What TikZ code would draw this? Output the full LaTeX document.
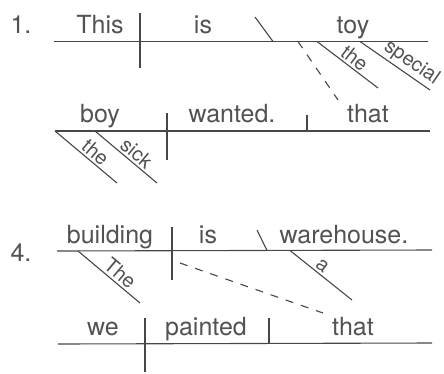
\documentclass[tikz,border=0pt]{standalone}
\usepackage{fontspec}
\setmainfont{TeX Gyre Heros}
\begin{document}
\begin{tikzpicture}[x=1pt, y=-1pt,
    rule/.style={line width=1.1pt, draw=black!72},
    word/.style={anchor=base, inner sep=0pt, text=black!68, font=\fontsize{25}{29}\selectfont},
    mod/.style={sloped, above, inner sep=2pt, text=black!68, font=\fontsize{20}{24}\selectfont},
    link/.style={rule, dash pattern=on 8pt off 8pt}]
    \useasboundingbox (0,0) rectangle (444,373);
    % sentence 1, main clause
    \node[word] (num1) at (21,33) {1.};
    \coordinate (mainA) at (54,41.5);
    \draw[rule] (mainA) -- (428,41.5);
    \draw[rule] (140,13) -- (140,68);
    \draw[rule] (255,17) -- (273,41.5);
    \node[word] (this) at (100,33) {This};
    \node[word] (isA) at (203,33) {is};
    \node[word] (toy) at (353,33) {toy};
    \draw[rule] (317,41.5) -- node[mod, pos=0.52] {the} (378,88);
    \draw[rule] (360,41.5) -- node[mod, pos=0.64] {special} (430,90);
    % sentence 1, relative clause
    \coordinate (relA) at (55,131);
    \draw[rule] (relA) -- (430,131);
    \draw[rule] (167,113) -- (167,160);
    \draw[rule] (307,115) -- (307,131);
    \node[word] (boy) at (100,122) {boy};
    \node[word] (wanted) at (232,122) {wanted.};
    \node[word] (thatA) at (368,122) {that};
    \draw[rule] (relA) -- node[mod, pos=0.55] {the} (117,183);
    \draw[rule] (95,131) -- node[mod, pos=0.57] {sick} (157,183);
    \coordinate (linkA) at (338,100);
    \draw[link] (298,41.5) -- (linkA);
    % sentence 4, main clause
    \node[word] (num4) at (21,261) {4.};
    \coordinate (mainB) at (57,251);
    \draw[rule] (mainB) -- (432,250);
    \draw[rule] (172,227) -- (172,280);
    \draw[rule] (257,230) -- (267,250.5);
    \node[word] (building) at (110,243) {building};
    \node[word] (isB) at (208,243) {is};
    \node[word] (warehouse) at (344,243) {warehouse.};
    \draw[rule] (78,251) -- node[mod, pos=0.58] {The} (140,303);
    \draw[rule] (290,250.5) -- node[mod, pos=0.44] {a} (352,300);
    % sentence 4, relative clause
    \coordinate (relB) at (58,344);
    \draw[rule] (relB) -- (432,343);
    \draw[rule] (145,318) -- (145,372);
    \draw[rule] (269,318) -- (269,343);
    \node[word] (we) at (103,335) {we};
    \node[word] (painted) at (206,335) {painted};
    \node[word] (thatB) at (353,335) {that};
    \coordinate (linkB) at (323,313);
    \draw[link] (180,263) -- (linkB);
\end{tikzpicture}
\end{document}
